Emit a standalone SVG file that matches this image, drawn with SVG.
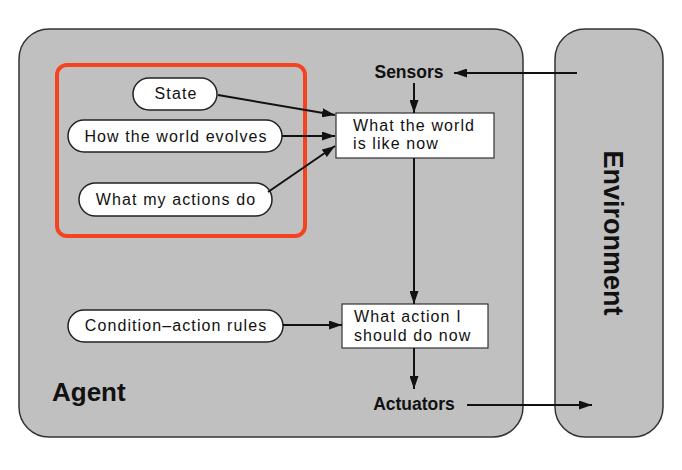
<svg xmlns="http://www.w3.org/2000/svg" width="682" height="470" viewBox="0 0 682 470">
<defs>
<marker id="ah" viewBox="0 0 13 9" refX="13" refY="4.5" markerWidth="13" markerHeight="9" markerUnits="userSpaceOnUse" orient="auto">
<path d="M0,0 L13,4.5 L0,9 Z" fill="#111"/>
</marker>
<style>
.panel{fill:#c0c0c0;stroke:#333;stroke-width:1.5}
.pill{fill:#fff;stroke:#222;stroke-width:1.5}
.box{fill:#fff;stroke:#333;stroke-width:1.2}
.t{font-family:"Liberation Sans",Arial,sans-serif;font-size:16px;letter-spacing:1.1px;fill:#111}
.b{font-family:"Liberation Sans",Arial,sans-serif;font-weight:bold;fill:#111}
.c{text-anchor:middle}
.e{fill:none;stroke:#111;stroke-width:2;marker-end:url(#ah)}
</style>
</defs>
<rect width="682" height="470" fill="#fff"/>
<g id="agent">
<rect class="panel" x="19" y="29" width="504" height="408" rx="30" ry="30"/>
<text class="b" x="52" y="401" font-size="26">Agent</text>
</g>
<g id="environment">
<rect class="panel" x="555" y="29" width="108" height="408" rx="30" ry="30"/>
<text class="b c" font-size="27" transform="translate(604,233) rotate(90)">Environment</text>
</g>
<g id="highlight">
<rect x="57" y="65" width="248" height="171" rx="10" ry="10" fill="none" stroke="#f5431f" stroke-width="4"/>
</g>
<g id="state">
<rect class="pill" x="133" y="78" width="84" height="32" rx="16"/>
<text class="t c" x="176" y="99">State</text>
</g>
<g id="world-evolves">
<rect class="pill" x="68" y="120" width="214" height="32" rx="16"/>
<text class="t c" x="176" y="142">How the world evolves</text>
</g>
<g id="actions-do">
<rect class="pill" x="79" y="183" width="193" height="33" rx="16.5"/>
<text class="t c" x="176" y="205">What my actions do</text>
</g>
<g id="rules">
<rect class="pill" x="68" y="310" width="215" height="32" rx="16"/>
<text class="t c" x="176" y="331">Condition–action rules</text>
</g>
<g id="world-now">
<rect class="box" x="336" y="113" width="158" height="45"/>
<text class="t" x="353" y="131">What the world</text>
<text class="t" x="353" y="149">is like now</text>
</g>
<g id="action-now">
<rect class="box" x="342" y="304" width="146" height="44"/>
<text class="t" x="354" y="322">What action I</text>
<text class="t" x="354" y="341">should do now</text>
</g>
<g id="sensors">
<text class="b c" x="409" y="78" font-size="17.5">Sensors</text>
</g>
<g id="actuators">
<text class="b c" x="414" y="410" font-size="17.5">Actuators</text>
</g>
<g id="connectors">
<line class="e" x1="218" y1="95" x2="335" y2="115"/>
<line class="e" x1="282" y1="136" x2="335" y2="136"/>
<line class="e" x1="268" y1="192" x2="335" y2="146"/>
<line class="e" x1="577" y1="73" x2="454" y2="73"/>
<line class="e" x1="414" y1="83" x2="414" y2="113"/>
<line class="e" x1="414" y1="158" x2="414" y2="304"/>
<line class="e" x1="283" y1="325" x2="342" y2="325"/>
<line class="e" x1="414" y1="348" x2="414" y2="389"/>
<line class="e" x1="467" y1="405" x2="592" y2="405"/>
</g>
</svg>
